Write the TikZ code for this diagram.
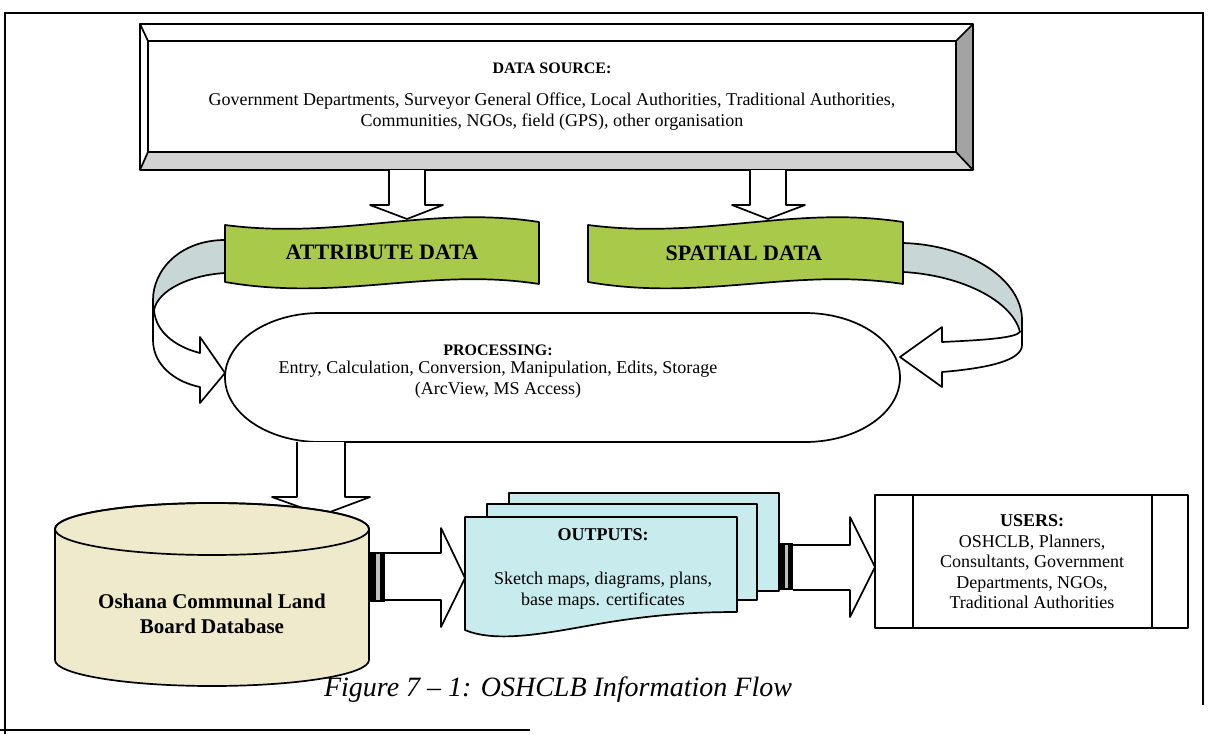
\documentclass[tikz,border=0pt]{standalone}
\usepackage{fontspec}
\setmainfont{Liberation Serif}
\definecolor{bannergreen}{HTML}{A9C94B}
\definecolor{bandgray}{HTML}{C9D6D6}
\definecolor{dbfill}{HTML}{EFEACB}
\definecolor{outfill}{HTML}{C8ECEE}
\definecolor{bevdark}{HTML}{A3A3A3}
\definecolor{bevlight}{HTML}{D2D2D2}
\tikzset{
  ol/.style={draw=black, line width=1.7pt, line join=round},
  blockarrow/.style={ol, fill=white},
  txt/.style={font=\fontsize{18}{21}\selectfont, align=center, inner sep=0pt},
  ttl/.style={font=\fontsize{16}{19}\selectfont\bfseries, inner sep=0pt},
  bannertxt/.style={font=\fontsize{22}{24}\selectfont\bfseries, inner sep=0pt},
}
\begin{document}
\begin{tikzpicture}[x=1pt,y=-1pt]
\useasboundingbox (0,0) rectangle (1217,734);
% frame
\draw[line width=2.2pt] (5,734) -- (5,13) -- (1203,13) -- (1203,705);
\draw[line width=2.2pt] (0,730) -- (530,730);

% bevel data source box
\coordinate (bo1) at (140,24); \coordinate (bo2) at (973,24);
\coordinate (bo3) at (973,170); \coordinate (bo4) at (140,170);
\coordinate (bi1) at (148,41); \coordinate (bi2) at (956,41);
\coordinate (bi3) at (956,152); \coordinate (bi4) at (148,152);
\fill[white] (bo1) -- (bo2) -- (bi2) -- (bi1) -- cycle;
\fill[bevdark] (bo2) -- (bo3) -- (bi3) -- (bi2) -- cycle;
\fill[bevlight] (bo3) -- (bo4) -- (bi4) -- (bi3) -- cycle;
\draw[ol] (bo1) rectangle (bo3);
\draw[ol] (bi1) rectangle (bi3);
\draw[ol] (bo1) -- (bi1) (bo2) -- (bi2) (bo3) -- (bi3) (bo4) -- (bi4);
\node[ttl] (srctitle) at (552,68) {DATA SOURCE:};
\node[txt] (srctext) at (552,112) {Government Departments, Surveyor General Office, Local Authorities, Traditional Authorities,\\Communities, NGOs, field (GPS), other organisation};

% down arrows from source
\draw[blockarrow] (389,170) -- (389,205) -- (370,205) -- (407,219) -- (443,205) -- (425,205) -- (425,170);
\draw[blockarrow] (750,170) -- (750,205) -- (732,205) -- (768,219) -- (805,205) -- (786,205) -- (786,170);

% left curved arrow (behind banner)
\fill[bandgray] (225,240) .. controls (180,240) and (153,270) .. (153,300) -- (154,310) .. controls (158,290) and (190,275) .. (225,273) -- cycle;
\fill[white] (153,300) -- (153,340) .. controls (153,365) and (175,382) .. (200,387) -- (200,403) -- (225,373) -- (200,337) -- (200,353) .. controls (180,348) and (156,335) .. (154,310) -- cycle;
\draw[ol] (225,240) .. controls (180,240) and (153,270) .. (153,300) -- (153,340) .. controls (153,365) and (175,382) .. (200,387) -- (200,403) -- (225,373) -- (200,337) -- (200,353) .. controls (180,348) and (156,335) .. (154,310) .. controls (158,290) and (190,275) .. (225,273);

% right curved arrow
\fill[bandgray] (903,243) .. controls (970,245) and (1022,280) .. (1022,320) -- (1020,332) .. controls (1012,300) and (960,275) .. (903,272) -- cycle;
\fill[white] (1022,320) -- (1022,345) .. controls (1022,360) and (990,368) .. (942,372) -- (942,387) -- (900,357) -- (942,327) -- (942,342) .. controls (985,340) and (1015,338) .. (1020,332) -- cycle;
\draw[ol] (903,243) .. controls (970,245) and (1022,280) .. (1022,320) -- (1022,345) .. controls (1022,360) and (990,368) .. (942,372) -- (942,387) -- (900,357) -- (942,327) -- (942,342) .. controls (985,340) and (1015,338) .. (1020,332) .. controls (1012,300) and (960,275) .. (903,272);

% banners
\draw[ol, fill=bannergreen] (225,225) .. controls (340,240) and (430,205) .. (539,222) -- (539,284) .. controls (430,267) and (340,302) .. (225,282) -- cycle;
\node[bannertxt] (attr) at (382,252) {ATTRIBUTE DATA};
\draw[ol, fill=bannergreen] (588,225) .. controls (703,240) and (793,205) .. (903,222) -- (903,284) .. controls (793,267) and (703,302) .. (588,282) -- cycle;
\node[bannertxt] (spat) at (744,253) {SPATIAL DATA};

% processing terminator
\draw[ol, fill=white] (320,313) -- (805,313) arc[start angle=90, end angle=-90, x radius=95pt, y radius=64.5pt] -- (320,442) arc[start angle=270, end angle=90, x radius=95pt, y radius=64.5pt] -- cycle;
\node[ttl] (proct) at (498,350) {PROCESSING:};
\node[txt] (proc) at (498,380) {Entry, Calculation, Conversion, Manipulation, Edits, Storage\\(ArcView, MS Access)};

% arrow processing -> database
\draw[blockarrow] (297,442) -- (297,497) -- (272,497) -- (322,515) -- (370,497) -- (345,497) -- (345,442);

% database cylinder
\draw[ol, fill=dbfill] (55,529) -- (55,660) arc[start angle=180, end angle=360, x radius=157pt, y radius=26pt] -- (369,529) arc[start angle=0, end angle=180, x radius=157pt, y radius=26pt] -- cycle;
\draw[ol] (212,529) ellipse [x radius=157pt, y radius=26pt];
\node[txt, font=\fontsize{21}{25}\selectfont\bfseries] (db) at (212,614) {Oshana Communal Land\\Board Database};

% arrow database -> outputs
\fill[black] (369,552) rectangle (385,602);
\fill[gray!50] (376,554) rectangle (380,600);
\draw[blockarrow] (385,553) -- (441,553) -- (441,528) -- (465,578) -- (441,627) -- (441,600) -- (385,600);

% outputs multi-document
\draw[ol, fill=outfill] (509,493) rectangle (779,591);
\draw[ol, fill=outfill] (487,504) rectangle (757,600);
\draw[ol, fill=outfill] (465,517) -- (737,517) -- (737,612) .. controls (700,612) and (660,614) .. (610,622) .. controls (560,630) and (500,645) .. (465,630) -- cycle;
\node[ttl, font=\fontsize{18}{20}\selectfont\bfseries] (outt) at (603,535) {OUTPUTS:};
\node[txt] (outx) at (603,591) {Sketch maps, diagrams, plans,\\base maps. certificates};

% arrow outputs -> users
\fill[black] (779,543) rectangle (793,590);
\fill[gray!50] (785,545) rectangle (788,588);
\draw[blockarrow] (793,545) -- (850,545) -- (850,517) -- (875,567) -- (850,617) -- (850,590) -- (793,590);

% users box
\draw[ol, fill=white] (875,495) rectangle (1188,628);
\draw[ol] (913,495) -- (913,628) (1152,495) -- (1152,628);
\node[txt, font=\fontsize{18}{20.5}\selectfont] (users) at (1032,562) {\textbf{USERS:}\\OSHCLB, Planners,\\Consultants, Government\\Departments, NGOs,\\Traditional Authorities};

% caption
\node[inner sep=0pt, font=\fontsize{28}{32}\selectfont\itshape] (cap) at (558,690) {Figure 7 – 1: OSHCLB Information Flow};
\end{tikzpicture}
\end{document}
